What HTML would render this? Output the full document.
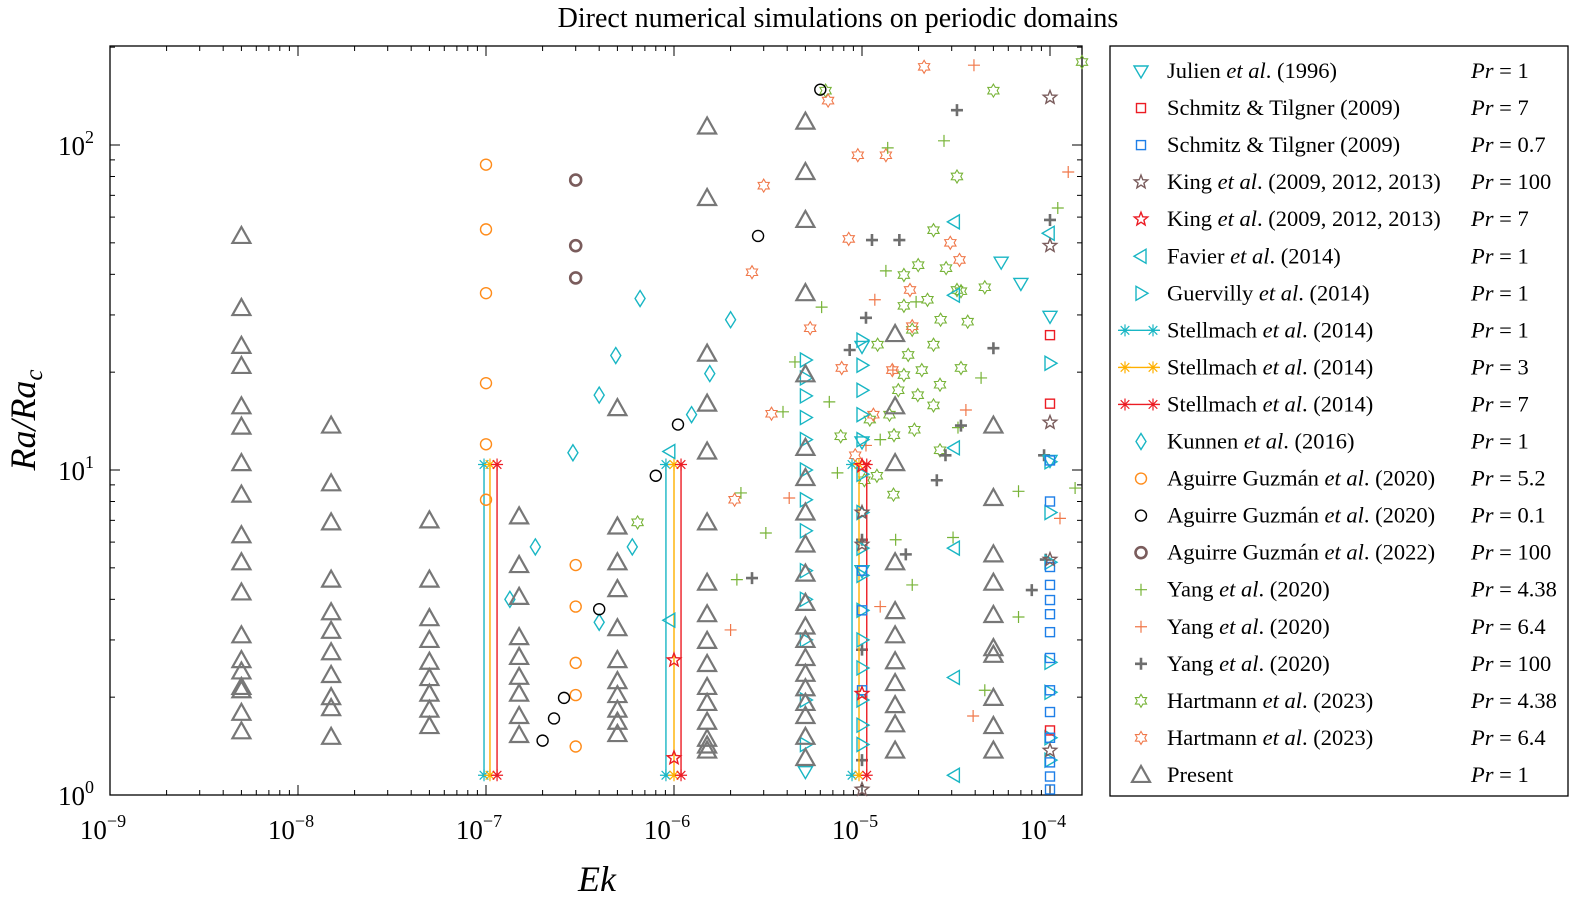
<!DOCTYPE html>
<html><head><meta charset="utf-8">
<style>
body{margin:0;background:#fff;}
svg{display:block;font-family:"Liberation Serif",serif;}
</style></head>
<body>
<svg id="chart" width="1575" height="906" xmlns="http://www.w3.org/2000/svg">
<text x="838" y="27" text-anchor="middle" font-size="28">Direct numerical simulations on periodic domains</text>
<g id="axes"></g>
<g id="marks"></g>
<g id="legend"></g>
</svg>
<script>
// ---- data ----
const presentEk=[5e-9,1.5e-8,5e-8,1.5e-7,5e-7,1.5e-6,5e-6,1.5e-5,5e-5];
const presentRa=[
[52.5,31.5,24.1,20.9,15.7,13.6,10.5,8.4,6.3,5.2,4.2,3.1,2.6,2.4,2.15,2.1,1.79,1.57],
[13.7,9.1,6.9,4.6,3.65,3.2,2.75,2.34,2.0,1.85,1.51],
[7.0,4.6,3.5,3.0,2.57,2.29,2.05,1.83,1.63],
[7.2,5.1,4.07,3.06,2.66,2.31,2.05,1.75,1.53],
[15.5,6.7,5.2,4.3,3.26,2.6,2.24,2.03,1.83,1.68,1.54],
[114,68.7,22.8,16,11.4,6.9,4.5,3.6,2.98,2.53,2.15,1.92,1.68,1.49,1.42,1.37],
[118,82.6,58.8,35,19.7,11.7,9.45,7.4,5.9,4.8,3.9,3.3,3.0,2.64,2.36,2.13,1.92,1.75,1.51,1.3],
[26.2,15.7,10.5,5.2,3.68,3.1,2.58,2.21,1.89,1.65,1.37],
[13.7,8.2,5.5,4.5,3.58,2.83,2.7,1.99,1.63,1.37]];
const stellEk1=[9.76e-8,9.06e-7,8.85e-6], stellEk3=[1.05e-7,1.0e-6,9.64e-6], stellEk7=[1.145e-7,1.09e-6,1.06e-5];
const stellRaLo=1.15, stellRaHi=10.4;
const julienEk=[1e-4,1e-4,5.5e-5,7e-5,5e-6,1e-5,1e-5,1e-5];
const julienRa=[29.7,10.7,43.6,37.5,1.18,24.0,12.2,4.9];
const schmitz7Ek=[1e-4,1e-4,1e-4], schmitz7Ra=[26,16,1.58];
const schmitz07Ek=[1e-4,1e-4,1e-4,1e-4,1e-4,1e-4,1e-4,1e-4,1e-4,1e-4,1e-4,1e-4,1e-4,1e-4,1e-5,1e-5,1e-5];
const schmitz07Ra=[10.7,8.0,5.03,4.43,3.98,3.6,3.17,2.64,2.1,1.8,1.5,1.26,1.14,1.04,4.9,3.7,2.1];
const king100Ek=[1e-4,1e-4,1e-4,1e-5,1e-5,1e-4,1e-5,1e-4];
const king100Ra=[140,49,14,7.4,5.9,1.37,1.04,5.3];
const king7Ek=[1e-6,1e-6,1e-5,1e-5];
const king7Ra=[2.6,1.3,2.05,10.3];
const favierEk=[3.1e-5,3.1e-5,3.1e-5,3.1e-5,3.1e-5,3.1e-5,9.9e-5,9.5e-7,9.5e-7];
const favierRa=[58,34.5,11.7,5.75,2.3,1.15,53.5,11.4,3.45];
const guervEk=[5e-6,5e-6,5e-6,5e-6,5e-6,5e-6,5e-6,5e-6,5e-6,5e-6,5e-6,5e-6,5e-6,
1e-5,1e-5,1e-5,1e-5,1e-5,1e-5,1e-5,1e-5,1e-5,1e-5,1e-5,1e-5,1e-5,1e-5,1e-5,
1e-4,1e-4,1e-4,1e-4,1e-4,1e-4,1e-4,1e-4];
const guervRa=[21.8,19.2,16.9,14.5,12.4,10,8.1,6.5,4.9,4.0,3.0,1.96,1.43,
25.1,21,17.6,14.8,12.4,9.7,7.4,5.75,4.74,3.7,3.0,2.46,1.96,1.64,1.43,
21.3,10.6,7.4,5.2,2.56,2.07,1.5,1.28];
const kunnenEk=[1.34e-7,1.83e-7,2.9e-7,4e-7,4e-7,4.9e-7,6e-7,6.6e-7,1.24e-6,1.55e-6,2.0e-6];
const kunnenRa=[4.0,5.8,11.3,3.4,17,22.5,5.8,33.7,14.8,19.8,29];
const ag52Ek=[1e-7,1e-7,1e-7,1e-7,1e-7,1e-7,3e-7,3e-7,3e-7,3e-7,3e-7];
const ag52Ra=[87,55,35,18.5,12,8.1,5.1,3.8,2.55,2.03,1.41];
const ag01Ek=[2e-7,2.3e-7,2.6e-7,4e-7,8e-7,1.05e-6,2.8e-6,6e-6];
const ag01Ra=[1.47,1.72,1.99,3.73,9.6,13.8,52.5,148];
const ag100Ek=[3e-7,3e-7,3e-7], ag100Ra=[78,49,39];
const yang438Ek=[1.37e-5,4.4e-6,3.8e-6,3.08e-6,2.16e-6,2.27e-6,6.1e-6,6.7e-6,7.4e-6,1.34e-5,1.94e-5,2.73e-5,3.24e-5,4.3e-5,6.8e-5,1.1e-4,1.36e-4,4.5e-5,6.8e-5,1.51e-5,1.85e-5,3.05e-5,1.25e-5];
const yang438Ra=[98,21.5,15.1,6.4,4.6,8.5,31.7,16.2,9.8,41,32.9,103,13.5,19.2,8.6,64,8.8,2.1,3.53,6.1,4.43,6.2,12.4];
const yang64Ek=[3.94e-5,1.17e-5,1.46e-5,1.05e-5,1.25e-5,3.57e-5,3.9e-5,1.25e-4,1.13e-4,2.0e-6,4.1e-6];
const yang64Ra=[176,33.4,20.3,11.9,3.8,15.3,1.75,82.6,7.1,3.22,8.2];
const yang100Ek=[3.2e-5,1e-4,1.13e-5,1.58e-5,8.6e-6,1.05e-5,5e-5,3.36e-5,2.78e-5,2.5e-5,1.71e-5,2.6e-6,1e-5,8e-5,1e-5,1e-5,9.3e-5,9.5e-5];
const yang100Ra=[128,58.8,51,51,23.4,29.4,23.7,13.7,11.1,9.3,5.5,4.65,6.1,4.27,2.8,1.28,11.1,5.3];
const hart438Ek=[1.48e-4,5e-5,6.4e-6,3.2e-5,2.4e-5,1.99e-5,1.67e-5,2.8e-5,3.36e-5,2.23e-5,1.67e-5,2.62e-5,3.65e-5,1.21e-5,1.85e-5,2.4e-5,1.76e-5,2.08e-5,2.6e-5,3.36e-5,1.67e-5,1.98e-5,1.56e-5,1.4e-5,1.1e-5,1.9e-5,1.48e-5,7.7e-6,2.4e-5,2.6e-5,1.03e-5,1.2e-5,1.47e-5,6.4e-7,3.2e-5,4.5e-5];
const hart438Ra=[180,147,147,80,54.7,42.7,39.8,41.8,35.5,33.4,32,29,28.6,24.3,27,24.3,22.6,20.3,18.3,20.6,19.6,17,17.6,14.8,14.3,13.3,12.8,12.7,15.8,11.5,9.3,9.6,8.4,6.9,35.8,36.5];
const hart64Ek=[2.14e-5,6.6e-6,9.5e-6,1.34e-5,3.0e-6,8.5e-6,2.95e-5,2.6e-6,1.8e-5,3.3e-5,5.3e-6,1.85e-5,1.45e-5,7.8e-6,1.15e-5,3.3e-6,2.1e-6,9.2e-6];
const hart64Ra=[174,137,93,93,75,51.4,50,40.6,35.8,44.3,27.3,27.7,20.3,20.6,14.8,14.9,8.1,11.1];
const xTickLabels=["-9","-8","-7","-6","-5","-4"];
const yTickLabels=["0","1","2"];

// ---- scales ----
const X0=110,PX=188,Y0=795,PY=325;
const sx=e=>X0+PX*(Math.log10(e)+9);
const sy=r=>Y0-PY*Math.log10(r);
const NS="http://www.w3.org/2000/svg";
function mk(tag,attrs,parent){const e=document.createElementNS(NS,tag);for(const k in attrs)e.setAttribute(k,attrs[k]);parent.appendChild(e);return e;}
const axes=document.getElementById('axes'),marks=document.getElementById('marks'),leg=document.getElementById('legend');

const frame=mk('rect',{x:110,y:46,width:972,height:749,fill:'none',stroke:'#000','stroke-width':1.3},axes);


for(let d=-9;d<=-4;d++){
  for(let m=1;m<10;m++){
    const v=m*Math.pow(10,d); if(v>1.48e-4)break;
    const x=sx(v),L=m==1?10:5;
    mk('line',{x1:x,y1:795,x2:x,y2:795-L,stroke:'#000','stroke-width':1},axes);
    mk('line',{x1:x,y1:46,x2:x,y2:46+L,stroke:'#000','stroke-width':1},axes);
  }
}
xTickLabels.forEach((t,i)=>{
  const x=sx(Math.pow(10,+t));
  const g=mk('text',{x:x-7,y:839,'text-anchor':'middle','font-size':27},axes);
  
  
  g.innerHTML='10<tspan dy="-12" font-size="18">\u2212'+t.slice(1)+'</tspan>';
});
for(let d=0;d<=2;d++){
  for(let m=1;m<10;m++){
    const v=m*Math.pow(10,d); if(v>202)break;
    const y=sy(v),L=m==1?10:5;
    mk('line',{x1:110,y1:y,x2:110+L,y2:y,stroke:'#000','stroke-width':1},axes);
    mk('line',{x1:1082,y1:y,x2:1082-L,y2:y,stroke:'#000','stroke-width':1},axes);
  }
}
yTickLabels.forEach(t=>{
  const y=sy(Math.pow(10,+t));
  const g=mk('text',{x:94,y:y+10,'text-anchor':'end','font-size':27},axes);
  
  
  g.innerHTML='10<tspan dy="-12" font-size="18">'+t+'</tspan>';
});
const xl=mk('text',{x:597,y:891,'text-anchor':'middle','font-size':36,'font-style':'italic'},axes);


xl.textContent='Ek';
const yl=mk('text',{x:0,y:0,'text-anchor':'middle','font-size':36,'font-style':'italic',transform:'translate(35,420) rotate(-90)'},axes);


yl.innerHTML='Ra/Ra<tspan dy="7" font-size="25">c</tspan>';

function star(cx,cy,R,r,n){let p=[];for(let i=0;i<2*n;i++){const a=-Math.PI/2+i*Math.PI/n,rr=i%2?r:R;p.push((cx+rr*Math.cos(a)).toFixed(1)+','+(cy+rr*Math.sin(a)).toFixed(1));}return p.join(' ');}
function marker(type,x,y,col,parent){
  const sw=1.4;let e;
  switch(type){
  case 'tri-up':e=mk('polygon',{points:`${x-9},${y+7} ${x+9},${y+7} ${x},${y-9}`,fill:'none',stroke:col,'stroke-width':2.2},parent);break;
  case 'tri-down':e=mk('polygon',{points:`${x-7},${y-5} ${x+7},${y-5} ${x},${y+7}`,fill:'none',stroke:col,'stroke-width':sw},parent);break;
  case 'tri-left':e=mk('polygon',{points:`${x+5},${y-7} ${x+5},${y+7} ${x-7},${y}`,fill:'none',stroke:col,'stroke-width':sw},parent);break;
  case 'tri-right':e=mk('polygon',{points:`${x-5},${y-7} ${x-5},${y+7} ${x+7},${y}`,fill:'none',stroke:col,'stroke-width':sw},parent);break;
  case 'square':e=mk('rect',{x:x-4.5,y:y-4.5,width:9,height:9,fill:'none',stroke:col,'stroke-width':sw},parent);break;
  case 'circle':e=mk('circle',{cx:x,cy:y,r:5.5,fill:'none',stroke:col,'stroke-width':sw},parent);break;
  case 'circle-thick':e=mk('circle',{cx:x,cy:y,r:5.5,fill:'none',stroke:col,'stroke-width':2.6},parent);break;
  case 'diamond':e=mk('polygon',{points:`${x},${y-8} ${x+5},${y} ${x},${y+8} ${x-5},${y}`,fill:'none',stroke:col,'stroke-width':sw},parent);break;
  case 'star':e=mk('polygon',{points:star(x,y,7,3,5),fill:'none',stroke:col,'stroke-width':sw},parent);break;
  case 'hex':e=mk('polygon',{points:star(x,y,6.5,3.8,6),fill:'none',stroke:col,'stroke-width':1.1},parent);break;
  case 'plus':e=mk('path',{d:`M${x-6},${y}H${x+6}M${x},${y-6}V${y+6}`,stroke:col,'stroke-width':1.2},parent);break;
  case 'plus-thick':e=mk('path',{d:`M${x-6},${y}H${x+6}M${x},${y-6}V${y+6}`,stroke:col,'stroke-width':2.6},parent);break;
  case 'asterisk':e=mk('path',{d:`M${x-6},${y}H${x+6}M${x},${y-6}V${y+6}M${x-4.3},${y-4.3}L${x+4.3},${y+4.3}M${x-4.3},${y+4.3}L${x+4.3},${y-4.3}`,stroke:col,'stroke-width':1.2},parent);break;
  }
  return e;
}
function series(name,type,col,eks,ras){
  const g=mk('g',{},marks);
  
  
  for(let i=0;i<eks.length;i++){
    const m=marker(type,sx(eks[i]),sy(ras[i]),col,g);
    
    
  }
}
const C={cyan:'#19b6c4',red:'#ec1c24',blue:'#1e7fe8',brown:'#7a5c5c',orange:'#ff8c1a',black:'#000',green:'#77b337',ored:'#f0784a',gray:'#6e6e6e',yellow:'#ffb000'};

series('hartmann-pr438','hex',C.green,hart438Ek,hart438Ra);
series('hartmann-pr64','hex',C.ored,hart64Ek,hart64Ra);
series('yang-pr438','plus',C.green,yang438Ek,yang438Ra);
series('yang-pr64','plus',C.ored,yang64Ek,yang64Ra);
series('yang-pr100','plus-thick',C.gray,yang100Ek,yang100Ra);
[[stellEk1,C.cyan,'stellmach-pr1'],[stellEk3,C.yellow,'stellmach-pr3'],[stellEk7,C.red,'stellmach-pr7']].forEach(([eks,col,name])=>{
  const g=mk('g',{},marks);
  
  
  eks.forEach(e=>{
    const x=sx(e);
    const ln=mk('line',{x1:x,y1:sy(stellRaLo),x2:x,y2:sy(stellRaHi),stroke:col,'stroke-width':1.4},g);
    
    
    marker('asterisk',x,sy(stellRaLo),col,g);
    marker('asterisk',x,sy(stellRaHi),col,g);
  });
});
series('julien','tri-down',C.cyan,julienEk,julienRa);
series('favier','tri-left',C.cyan,favierEk,favierRa);
series('guervilly','tri-right',C.cyan,guervEk,guervRa);
series('kunnen','diamond',C.cyan,kunnenEk,kunnenRa);
series('schmitz-pr7','square',C.red,schmitz7Ek,schmitz7Ra);
series('schmitz-pr07','square',C.blue,schmitz07Ek,schmitz07Ra);
series('king-pr100','star',C.brown,king100Ek,king100Ra);
series('king-pr7','star',C.red,king7Ek,king7Ra);
series('aguirre-pr52','circle',C.orange,ag52Ek,ag52Ra);
series('aguirre-pr01','circle',C.black,ag01Ek,ag01Ra);
series('aguirre-pr100','circle-thick',C.brown,ag100Ek,ag100Ra);
presentEk.forEach((e,i)=>series('present-col-'+i,'tri-up','#777',presentRa[i].map(()=>e),presentRa[i]));

const lb=mk('rect',{x:1110,y:46,width:458,height:750,fill:'#fff',stroke:'#000','stroke-width':1.3},leg);


const entries=[
['tri-down',C.cyan,'Julien <tspan font-style="italic">et al</tspan>. (1996)','1'],
['square',C.red,'Schmitz &amp; Tilgner (2009)','7'],
['square',C.blue,'Schmitz &amp; Tilgner (2009)','0.7'],
['star',C.brown,'King <tspan font-style="italic">et al</tspan>. (2009, 2012, 2013)','100'],
['star',C.red,'King <tspan font-style="italic">et al</tspan>. (2009, 2012, 2013)','7'],
['tri-left',C.cyan,'Favier <tspan font-style="italic">et al</tspan>. (2014)','1'],
['tri-right',C.cyan,'Guervilly <tspan font-style="italic">et al</tspan>. (2014)','1'],
['line',C.cyan,'Stellmach <tspan font-style="italic">et al</tspan>. (2014)','1'],
['line',C.yellow,'Stellmach <tspan font-style="italic">et al</tspan>. (2014)','3'],
['line',C.red,'Stellmach <tspan font-style="italic">et al</tspan>. (2014)','7'],
['diamond',C.cyan,'Kunnen <tspan font-style="italic">et al</tspan>. (2016)','1'],
['circle',C.orange,'Aguirre Guzmán <tspan font-style="italic">et al</tspan>. (2020)','5.2'],
['circle',C.black,'Aguirre Guzmán <tspan font-style="italic">et al</tspan>. (2020)','0.1'],
['circle-thick',C.brown,'Aguirre Guzmán <tspan font-style="italic">et al</tspan>. (2022)','100'],
['plus',C.green,'Yang <tspan font-style="italic">et al</tspan>. (2020)','4.38'],
['plus',C.ored,'Yang <tspan font-style="italic">et al</tspan>. (2020)','6.4'],
['plus-thick',C.gray,'Yang <tspan font-style="italic">et al</tspan>. (2020)','100'],
['hex',C.green,'Hartmann <tspan font-style="italic">et al</tspan>. (2023)','4.38'],
['hex',C.ored,'Hartmann <tspan font-style="italic">et al</tspan>. (2023)','6.4'],
['tri-up','#777','Present','1']];
entries.forEach((en,i)=>{
  const y=71+i*37.05;
  const g=mk('g',{},leg);
  
  
  if(en[0]==='line'){
    mk('line',{x1:1118,y1:y,x2:1160,y2:y,stroke:en[1],'stroke-width':1.4},g);
    marker('asterisk',1125,y,en[1],g);marker('asterisk',1153,y,en[1],g);
  } else marker(en[0],1141,y,en[1],g);
  const t=mk('text',{x:1167,y:y+7,'font-size':22.5},g);
  t.innerHTML=en[2];
  const p=mk('text',{x:1471,y:y+7,'font-size':22.5},g);
  p.innerHTML='<tspan font-style="italic">Pr</tspan> = '+en[3];
});
</script>
</body></html>
